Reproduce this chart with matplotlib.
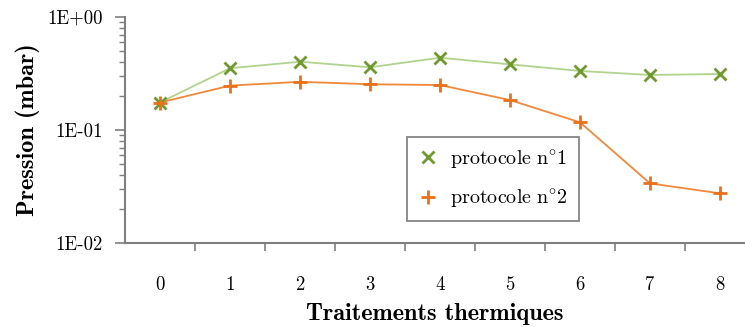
import numpy as np
import matplotlib
matplotlib.use("Agg")
import matplotlib.pyplot as plt
from matplotlib.ticker import FixedLocator, LogLocator, NullFormatter

# data
traitements = [0, 1, 2, 3, 4, 5, 6, 7, 8]
protocole_1 = [0.175, 0.352, 0.402, 0.359, 0.436, 0.381, 0.333, 0.307, 0.313]
protocole_2 = [0.175, 0.247, 0.267, 0.254, 0.250, 0.184, 0.117, 0.0337, 0.0275]
y_ticks = [1e-2, 1e-1, 1e0]
y_tick_labels = ["1E-02", "1E-01", "1E+00"]
series_labels = [r'$\mathrm{protocole\ n}^{\circ}\mathrm{1}$',
                 r'$\mathrm{protocole\ n}^{\circ}\mathrm{2}$']

plt.rcParams['font.family'] = ['cmr10', 'DejaVu Serif']
plt.rcParams['mathtext.fontset'] = 'cm'
plt.rcParams['axes.unicode_minus'] = False
plt.rcParams['axes.formatter.use_mathtext'] = False

fig = plt.figure(figsize=(7.45, 3.27), dpi=100)
ax = fig.add_axes([125 / 745, 84 / 327, 620 / 745, 226 / 327])

axis_col = '#7f7f7f'

# series
ax.plot(traitements, protocole_1, color='#b0d48e', lw=1.3, zorder=2)
ax.plot(traitements, protocole_1, ls='none', marker='x', ms=8, mew=2,
        color='#6f9a2f', label=series_labels[0], zorder=3)
ax.plot(traitements, protocole_2, color='#f2883a', lw=1.3, zorder=2)
ax.plot(traitements, protocole_2, ls='none', marker='+', ms=10, mew=2,
        color='#e8711a', label=series_labels[1], zorder=3)

ax.set_yscale('log')
ax.set_ylim(1e-2, 1e0)
ax.set_xlim(-0.5, (745 - 160) / 70)

# y ticks
ax.yaxis.set_major_locator(FixedLocator(y_ticks))
ax.set_yticklabels(y_tick_labels)
ax.yaxis.set_minor_locator(LogLocator(base=10, subs=np.arange(2, 10)))
ax.yaxis.set_minor_formatter(NullFormatter())
ax.tick_params(axis='y', which='major', length=7, width=1.2, color=axis_col,
               labelsize=13.5, pad=9)
ax.tick_params(axis='y', which='minor', length=4, width=1.0, color=axis_col)

# x ticks between categories, labels centered on categories
ax.set_xticks([t + 0.5 for t in traitements[:-1]])
ax.set_xticklabels([])
ax.set_xticks(traitements, minor=True)
ax.set_xticklabels([str(t) for t in traitements], minor=True)
ax.tick_params(axis='x', which='major', length=6, width=1.2, color=axis_col)
ax.tick_params(axis='x', which='minor', length=0, labelsize=13.5, pad=24)

for s in ['top', 'right']:
    ax.spines[s].set_visible(False)
for s in ['left', 'bottom']:
    ax.spines[s].set_color(axis_col)
    ax.spines[s].set_linewidth(1.5)

ax.set_xlabel('Traitements thermiques', family=['cmb10', 'DejaVu Serif'],
              fontsize=17.5, labelpad=6)
ax.set_ylabel('Pression (mbar)', family=['cmb10', 'DejaVu Serif'],
              fontsize=17.5, labelpad=5)

leg = ax.legend(loc='upper left', bbox_to_anchor=((407 - 125) / 620, (243 - 137) / 226),
                fancybox=False, edgecolor='#666666', fontsize=14.5,
                handlelength=1.0, handletextpad=0.6, borderpad=0.55,
                labelspacing=0.8, borderaxespad=0)
leg.get_frame().set_linewidth(1.3)

fig.savefig('out.png', dpi=100)
